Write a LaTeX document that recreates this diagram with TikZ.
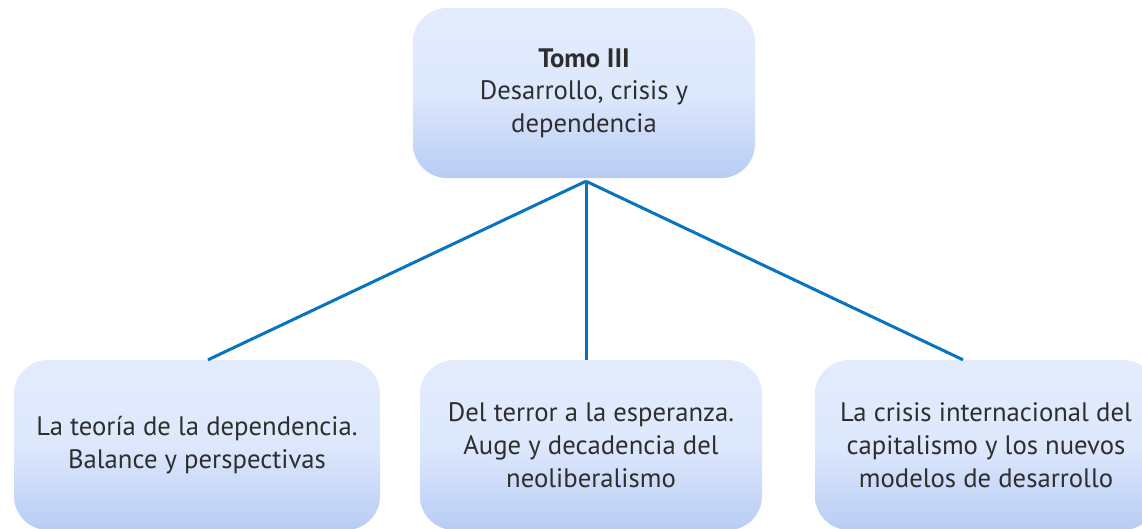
\documentclass[tikz,border=0pt]{standalone}
\usepackage{fontspec}
\setmainfont{PT Sans}
\usetikzlibrary{positioning}
\definecolor{boxtop}{HTML}{E3ECFD}
\definecolor{boxmid}{HTML}{DDE8FC}
\definecolor{boxbot}{HTML}{B8CCF4}
\definecolor{linkblue}{HTML}{0873BF}
\definecolor{txt}{HTML}{2E2E2E}
\tikzset{
  box/.style={rounded corners=34pt, top color=boxtop, bottom color=boxbot, middle color=boxmid,
    minimum width=342pt, minimum height=170pt, inner sep=0pt, align=center,
    text=txt, font=\fontsize{26.7}{33}\selectfont},
  link/.style={draw=linkblue, line width=3pt}
}
\begin{document}
\begin{tikzpicture}[x=1pt,y=-1pt]
\useasboundingbox (0,0) rectangle (1142,528);
\begin{scope}
\clip (0,0) rectangle (1142,528);
\node[box] (top) at (584,93) {\textbf{Tomo III}\\[-1pt]Desarrollo, crisis y\\dependencia};
\node[box, minimum width=366pt] (b1) at (197,445) {La teoría de la dependencia.\\Balance y perspectivas};
\node[box] (b2) at (591,445) {Del terror a la esperanza.\\Auge y decadencia del\\neoliberalismo};
\node[box] (b3) at (986,445) {La crisis internacional del\\capitalismo y los nuevos\\modelos de desarrollo};
\coordinate (apex) at ([xshift=2pt,yshift=-3pt]top.south);
\draw[link] ([xshift=11pt]b1.north) -- (apex);
\draw[link] ([xshift=-5pt]b2.north) -- (apex);
\draw[link] ([xshift=-23pt]b3.north) -- (apex);
\end{scope}
\end{tikzpicture}
\end{document}
